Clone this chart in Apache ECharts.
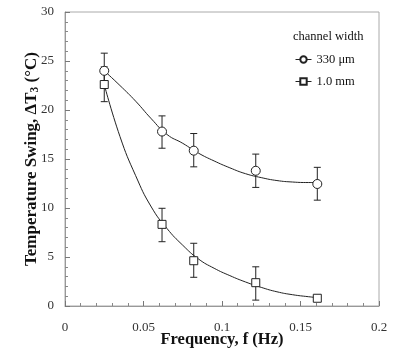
<!DOCTYPE html>
<html>
<head>
<meta charset="utf-8">
<script src="https://cdn.jsdelivr.net/npm/echarts@6/dist/echarts.min.js"></script>
<style>html,body{margin:0;padding:0;background:#fff}#c{width:403px;height:364px}</style>
</head>
<body>
<div id="c"></div>
<script>
// Measured points
var freq = [0.025, 0.0618, 0.082, 0.1215, 0.1607];
var t330 = [24.0, 17.8, 15.85, 13.8, 12.45];
var t330Low = [22.3, 16.1, 14.2, 12.1, 10.8];
var t330High = [25.8, 19.4, 17.6, 15.5, 14.15];
var t1mm = [22.6, 8.33, 4.62, 2.38, 0.79];
var t1mmLow = [20.85, 6.56, 2.93, 0.6, null];
var t1mmHigh = [24.4, 9.97, 6.4, 4.0, null];
// Fitted curves
var fitX = [0.025, 0.035, 0.045, 0.055, 0.065, 0.075, 0.085, 0.095, 0.105, 0.115, 0.125, 0.135, 0.145, 0.155, 0.161];
var fitY330 = [24.0, 22.5, 20.9, 19.1, 17.5, 16.6, 15.6, 14.8, 14.1, 13.5, 13.1, 12.8, 12.65, 12.6, 12.6];
var fitY1mm = [22.6, 17.3, 13.3, 10.1, 7.9, 6.2, 4.8, 3.85, 3.1, 2.45, 1.9, 1.45, 1.15, 0.95, 0.85];
var xTicks = [0, 0.05, 0.1, 0.15, 0.2];
var yTicks = [0, 5, 10, 15, 20, 25, 30];

function zip(a, b) { return a.map(function (v, i) { return [v, b[i]]; }); }
function errData(x, lo, hi) {
  var out = [];
  x.forEach(function (v, i) { if (lo[i] != null) out.push([v, lo[i], hi[i]]); });
  return out;
}
function errRender(params, api) {
  var x = api.value(0);
  var p1 = api.coord([x, api.value(1)]);
  var p2 = api.coord([x, api.value(2)]);
  var w = 3.5;
  var st = { stroke: '#222', lineWidth: 1 };
  return {
    type: 'group',
    children: [
      { type: 'line', shape: { x1: p1[0], y1: p1[1], x2: p2[0], y2: p2[1] }, style: st },
      { type: 'line', shape: { x1: p1[0] - w, y1: p1[1], x2: p1[0] + w, y2: p1[1] }, style: st },
      { type: 'line', shape: { x1: p2[0] - w, y1: p2[1], x2: p2[0] + w, y2: p2[1] }, style: st }
    ]
  };
}

var serif = 'Liberation Serif';
var chart = echarts.init(document.getElementById('c'));
chart.setOption({
  animation: false,
  backgroundColor: '#fff',
  textStyle: { fontFamily: serif },
  grid: { left: 65, right: 24, top: 12, bottom: 58, show: true, borderColor: '#aaa', borderWidth: 1 },
  title: {
    text: 'channel width', left: 288, top: 25,
    textStyle: { fontFamily: serif, fontSize: 12.5, fontWeight: 'normal', color: '#111' }
  },
  legend: {
    orient: 'vertical', left: 290, top: 48, itemGap: 9, itemWidth: 16, itemHeight: 8,
    data: ['330 μm', '1.0 mm'],
    textStyle: { fontFamily: serif, fontSize: 12.5, color: '#111' },
    lineStyle: { width: 1, color: '#222', opacity: 1 }
  },
  xAxis: {
    type: 'value', min: 0, max: 0.2, interval: 0.05,
    name: 'Frequency, f (Hz)', nameLocation: 'middle', nameGap: 25, nameMoveOverlap: false,
    nameTextStyle: { fontFamily: serif, fontSize: 16.5, fontWeight: 'bold', color: '#111' },
    axisLine: { lineStyle: { color: '#999' } },
    axisTick: { inside: true, length: 5, lineStyle: { color: '#777' } },
    minorTick: { show: true, splitNumber: 5, length: 3, lineStyle: { color: '#888' } },
    splitLine: { show: false },
    axisLabel: { fontFamily: serif, fontSize: 13, color: '#333', margin: 15,
      formatter: function (v) { var s = String(+v.toFixed(2)); return xTicks.indexOf(+s) >= 0 ? s : ''; } }
  },
  yAxis: {
    type: 'value', min: 0, max: 30, interval: 5,
    name: '{b|Temperature Swing, ΔT}{s|3}{b| (°C)}', nameLocation: 'middle', nameGap: 24, nameMoveOverlap: false,
    nameTextStyle: { fontFamily: serif, fontSize: 17, fontWeight: 'bold', color: '#111',
      rich: {
        b: { fontFamily: serif, fontSize: 17, fontWeight: 'bold', color: '#111' },
        s: { fontFamily: serif, fontSize: 11.5, fontWeight: 'bold', color: '#111', verticalAlign: 'bottom', padding: [7, 0, 0, 0] }
      } },
    axisLine: { show: true, lineStyle: { color: '#999' } },
    axisTick: { show: true, inside: true, length: 5, lineStyle: { color: '#777' } },
    minorTick: { show: true, splitNumber: 5, length: 3, lineStyle: { color: '#888' } },
    splitLine: { show: false },
    axisLabel: { fontFamily: serif, fontSize: 13, color: '#333', margin: 11,
      formatter: function (v) { return yTicks.indexOf(v) >= 0 ? String(v) : ''; } }
  },
  series: [
    { type: 'line', data: zip(fitX, fitY330), smooth: true, showSymbol: false, silent: true,
      lineStyle: { color: '#222', width: 1 }, z: 2 },
    { type: 'line', data: zip(fitX, fitY1mm), smooth: true, showSymbol: false, silent: true,
      lineStyle: { color: '#222', width: 1 }, z: 2 },
    { type: 'custom', data: errData(freq, t330Low, t330High), renderItem: errRender, z: 3 },
    { type: 'custom', data: errData(freq, t1mmLow, t1mmHigh), renderItem: errRender, z: 3 },
    { name: '330 μm', type: 'line', data: zip(freq, t330), symbol: 'circle', symbolSize: 9,
      lineStyle: { width: 0, opacity: 0 }, itemStyle: { color: '#fff', borderColor: '#222', borderWidth: 1 }, z: 5 },
    { name: '1.0 mm', type: 'line', data: zip(freq, t1mm), symbol: 'rect', symbolSize: 8,
      lineStyle: { width: 0, opacity: 0 }, itemStyle: { color: '#fff', borderColor: '#222', borderWidth: 1 }, z: 5 }
  ]
});
</script>
</body>
</html>
